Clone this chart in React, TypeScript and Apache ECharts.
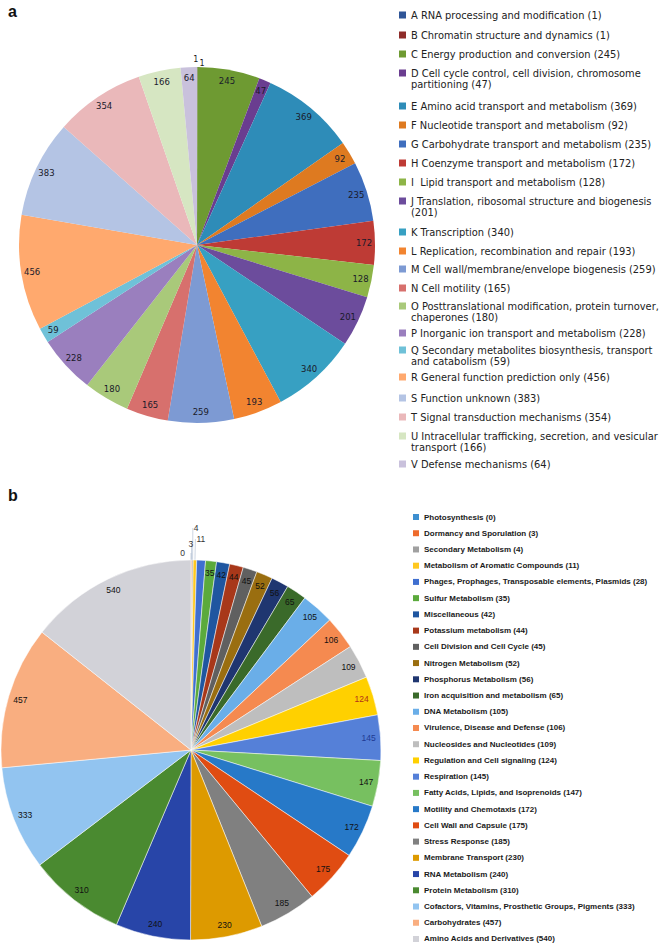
import React, { useEffect, useRef } from "react";
import * as echarts from "echarts";

// ---------- Panel a: COG categories ----------
const categoriesA = [
  "A RNA processing and modification",
  "B Chromatin structure and dynamics",
  "C Energy production and conversion",
  "D Cell cycle control, cell division, chromosome partitioning",
  "E Amino acid transport and metabolism",
  "F Nucleotide transport and metabolism",
  "G Carbohydrate transport and metabolism",
  "H Coenzyme transport and metabolism",
  "I  Lipid transport and metabolism",
  "J Translation, ribosomal structure and biogenesis",
  "K Transcription",
  "L Replication, recombination and repair",
  "M Cell wall/membrane/envelope biogenesis",
  "N Cell motility",
  "O Posttranslational modification, protein turnover, chaperones",
  "P Inorganic ion transport and metabolism",
  "Q Secondary metabolites biosynthesis, transport and catabolism",
  "R General function prediction only",
  "S Function unknown",
  "T Signal transduction mechanisms",
  "U Intracellular trafficking, secretion, and vesicular transport",
  "V Defense mechanisms",
];
const valuesA = [1, 1, 245, 47, 369, 92, 235, 172, 128, 201, 340, 193, 259, 165, 180, 228, 59, 456, 383, 354, 166, 64];
const colorsA = [
  "#2f5597", "#8e2c2a", "#6e9a32", "#6a3d90", "#2e8cb8", "#de7a20", "#3f6ebe", "#be3b35",
  "#8db447", "#6c4c9c", "#37a0c2", "#f28430", "#7d9ad3", "#d7706d", "#a9c97a", "#9a7fbe",
  "#6fc1d8", "#ffa96e", "#b4c4e4", "#eab8ba", "#d6e6c2", "#c9c1dc",
];
// word before which the legend text wraps onto a second line
const wrapBeforeA: Record<string, string> = {
  D: " partitioning",
  J: " (",
  O: " chaperones",
  Q: " and catabolism",
  U: " transport",
};
// legend row layout (first-line centre, px)
const legendRowYA = [15, 35, 54, 73, 106, 125, 144, 163, 182, 201, 232, 251, 269, 288, 306, 333, 350, 377, 398, 417, 436, 464];
// outside labels of the two 1-gene slices: leader length and text offset
const smallLabelA: Record<string, [number, number]> = {
  "A RNA processing and modification": [8, -4],
  "B Chromatin structure and dynamics": [4, 2],
};

// ---------- Panel b: subsystem categories ----------
const categoriesB = [
  "Photosynthesis",
  "Dormancy and Sporulation",
  "Secondary Metabolism",
  "Metabolism of Aromatic Compounds",
  "Phages, Prophages, Transposable elements, Plasmids",
  "Sulfur Metabolism",
  "Miscellaneous",
  "Potassium metabolism",
  "Cell Division and Cell Cycle",
  "Nitrogen Metabolism",
  "Phosphorus Metabolism",
  "Iron acquisition and metabolism",
  "DNA Metabolism",
  "Virulence, Disease and Defense",
  "Nucleosides and Nucleotides",
  "Regulation and Cell signaling",
  "Respiration",
  "Fatty Acids, Lipids, and Isoprenoids",
  "Motility and Chemotaxis",
  "Cell Wall and Capsule",
  "Stress Response",
  "Membrane Transport",
  "RNA Metabolism",
  "Protein Metabolism",
  "Cofactors, Vitamins, Prosthetic Groups, Pigments",
  "Carbohydrates",
  "Amino Acids and Derivatives",
];
const valuesB = [0, 3, 4, 11, 28, 35, 42, 44, 45, 52, 56, 65, 105, 106, 109, 124, 145, 147, 172, 175, 185, 230, 240, 310, 333, 457, 540];
const colorsB = [
  "#3d8fd0", "#ee6b2c", "#a0a0a0", "#ffc820", "#3f6fd0", "#5baa3c", "#1f56a0", "#a8381a",
  "#606060", "#9a6e10", "#1f3670", "#3a6a2a", "#6aaee8", "#f58a50", "#bebebe", "#ffd000",
  "#5580d8", "#77c060", "#2779c8", "#e04c12", "#808080", "#dd9a00", "#2845a8", "#4a8a30",
  "#92c4f0", "#f9ae80", "#d2d2d8",
];
const labelColorB: Record<string, string> = {
  "Regulation and Cell signaling": "#b0301a",
  Respiration: "#1f3a93",
};
// outside (small-slice) labels: leader-line length and sideways nudge
const smallLabelLenB: Record<string, number> = {
  Photosynthesis: 7,
  "Dormancy and Sporulation": 16,
  "Secondary Metabolism": 32,
  "Metabolism of Aromatic Compounds": 21,
};
const smallLabelNudgeB: Record<string, number> = {
  Photosynthesis: -5,
  "Dormancy and Sporulation": -4,
};

const FONT_A = "'DejaVu Sans', sans-serif";
const FONT_B = "'Liberation Sans', Arial, sans-serif";

export default function App() {
  const ref = useRef<HTMLDivElement>(null);

  useEffect(() => {
    if (!ref.current) return;
    const chart = echarts.init(ref.current, undefined, { renderer: "svg" });

    const legendTextA = (name: string) => {
      const v = valuesA[categoriesA.indexOf(name)];
      let t = `${name} (${v})`;
      const w = wrapBeforeA[name.charAt(0)];
      if (w) {
        const k = t.indexOf(w);
        if (k >= 0) t = t.slice(0, k) + "\n" + t.slice(k + 1);
      }
      return t;
    };

    const legendsA = categoriesA.map((name, i) => {
      const wrapped = !!wrapBeforeA[name.charAt(0)];
      return {
        data: [name],
        orient: "vertical",
        left: 399,
        top: legendRowYA[i] - 5.5,
        padding: 0,
        itemWidth: 7,
        itemHeight: wrapped ? 18 : 7,
        icon: wrapped ? "path://M0 0H7V7H0Z M0 18H7" : "rect",
        itemStyle: { borderWidth: 0 },
        selectedMode: false,
        formatter: legendTextA,
        textStyle: { fontFamily: FONT_A, fontSize: 9.9, lineHeight: 11, color: "#222" },
      };
    });

    const legendB = {
      data: categoriesB,
      orient: "vertical",
      left: 413,
      top: 511.5,
      padding: 0,
      itemWidth: 6,
      itemHeight: 6,
      itemGap: 5.23,
      icon: "rect",
      itemStyle: { borderWidth: 0 },
      selectedMode: false,
      formatter: (name: string) => `${name} (${valuesB[categoriesB.indexOf(name)]})`,
      textStyle: { fontFamily: FONT_B, fontSize: 8, fontWeight: "bold", lineHeight: 11, color: "#1a1a1a" },
    };

    const centerA = [197, 245];
    const rA = 178;
    const centerB = [191, 750];
    const rB = 190;

    const mainA = {
      type: "pie",
      name: "COG",
      center: centerA,
      radius: [0, rA],
      startAngle: 90,
      clockwise: true,
      avoidLabelOverlap: false,
      itemStyle: { borderWidth: 0 },
      label: { show: false, formatter: "{c}" },
      labelLine: { show: false },
      emphasis: { disabled: true },
      data: categoriesA.map((name, i) => {
        const s = smallLabelA[name];
        return {
          name,
          value: valuesA[i],
          itemStyle: { color: colorsA[i] },
          label: s
            ? {
                show: true,
                position: "outside",
                formatter: "{c}",
                fontFamily: FONT_A,
                fontSize: 8,
                color: "#1a1a1a",
                distanceToLabelLine: s[1],
              }
            : { show: false },
          labelLine: { show: false, length: s ? s[0] : 4, length2: 0 },
        };
      }),
    };

    const ringA = {
      type: "pie",
      name: "COG labels",
      center: centerA,
      radius: [150, rA],
      startAngle: 90,
      clockwise: true,
      silent: true,
      avoidLabelOverlap: false,
      itemStyle: { color: "rgba(0,0,0,0)", borderWidth: 0 },
      label: { show: true, position: "inside", formatter: "{c}", fontFamily: FONT_A, fontSize: 8.5, color: "#1a1a2a" },
      labelLine: { show: false },
      data: categoriesA.map((name, i) => ({
        name,
        value: valuesA[i],
        label: { show: !smallLabelA[name] },
      })),
    };

    const mainB = {
      type: "pie",
      name: "Subsystems",
      center: centerB,
      radius: [0, rB],
      startAngle: 90,
      clockwise: true,
      avoidLabelOverlap: false,
      itemStyle: { borderWidth: 0.5, borderColor: "#ffffff" },
      label: { show: false, formatter: "{c}" },
      labelLine: { show: false },
      emphasis: { disabled: true },
      labelLayout: (p: any) => {
        const n = smallLabelNudgeB[categoriesB[p.dataIndex]];
        return n != null ? { dx: n } : {};
      },
      data: categoriesB.map((name, i) => {
        const len = smallLabelLenB[name];
        return {
          name,
          value: valuesB[i],
          itemStyle: { color: colorsB[i] },
          label:
            len != null
              ? {
                  show: true,
                  position: "outside",
                  formatter: "{c}",
                  fontFamily: FONT_B,
                  fontSize: 8.5,
                  color: "#333",
                  distanceToLabelLine: 1,
                }
              : { show: false },
          labelLine:
            len != null
              ? { show: true, length: len, length2: 0, lineStyle: { color: "#a9b9cf", width: 0.6 } }
              : { show: false },
        };
      }),
    };

    const ringB = {
      type: "pie",
      name: "Subsystem labels",
      center: centerB,
      radius: [160, rB],
      startAngle: 90,
      clockwise: true,
      silent: true,
      avoidLabelOverlap: false,
      itemStyle: { color: "rgba(0,0,0,0)", borderWidth: 0 },
      label: { show: true, position: "inside", formatter: "{c}", fontFamily: FONT_B, fontSize: 8.5, color: "#111" },
      labelLine: { show: false },
      data: categoriesB.map((name, i) => ({
        name,
        value: valuesB[i],
        label: {
          show: smallLabelLenB[name] == null,
          color: labelColorB[name] || "#111",
        },
      })),
    };

    chart.setOption({
      animation: false,
      backgroundColor: "#ffffff",
      title: [
        { text: "a", left: 8, top: 3, padding: 0, textStyle: { fontFamily: "'Liberation Sans', Arial, sans-serif", fontSize: 16, fontWeight: "bold", color: "#111" } },
        { text: "b", left: 8, top: 487, padding: 0, textStyle: { fontFamily: "'Liberation Sans', Arial, sans-serif", fontSize: 16, fontWeight: "bold", color: "#111" } },
      ],
      legend: [...legendsA, legendB],
      series: [mainA, ringA, mainB, ringB],
    });

    return () => chart.dispose();
  }, []);

  return (
    <div
      ref={ref}
      style={{ position: "absolute", left: 0, top: 0, width: 665, height: 945 }}
    />
  );
}
